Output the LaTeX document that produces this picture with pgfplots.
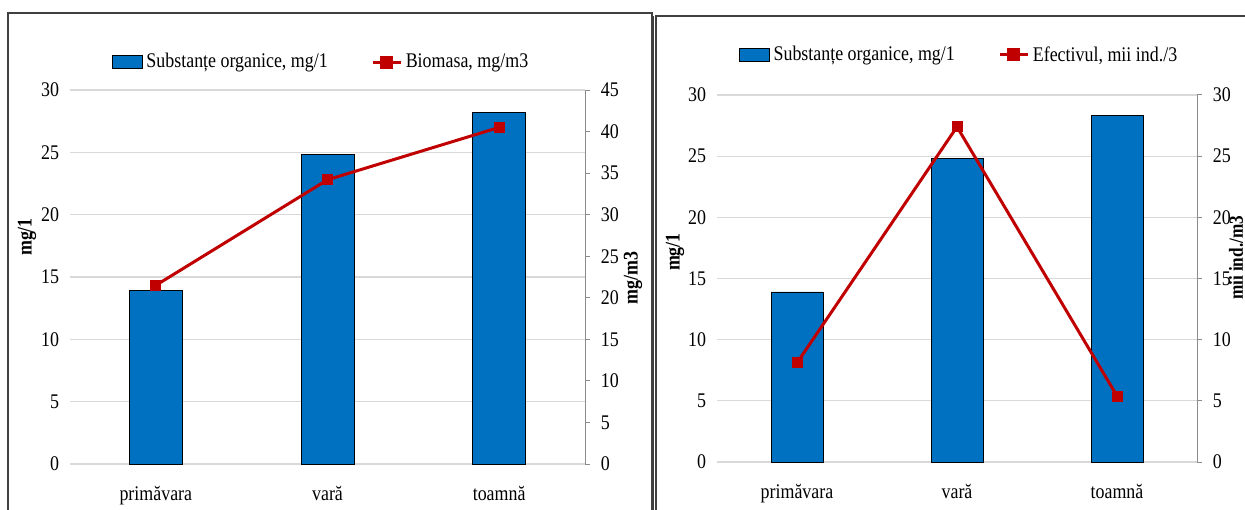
\documentclass[border=0pt]{standalone}
\usepackage{fontspec}
\setmainfont{Liberation Serif}[FakeStretch=0.86]
\usepackage{pgfplots}
\pgfplotsset{compat=1.18}
\definecolor{barblue}{HTML}{0070C0}
\definecolor{linered}{HTML}{C00000}
\definecolor{gridgray}{HTML}{D9D9D9}
\definecolor{axgray}{HTML}{8C8C8C}
\definecolor{framegray}{HTML}{404040}

\pgfplotsset{
  common/.style={
    scale only axis, anchor=south west,
    xmin=-0.5, xmax=2.5,
    /pgf/number format/assume math mode=true,
    tick label style={font=\fontsize{12.5}{14}\selectfont},
    label style={font=\bfseries\fontsize{12.5}{14}\selectfont},
  },
  primary/.style={
    common,
    ymin=0, ymax=30, ytick={0,5,...,30},
    xtick={0,1,2}, xticklabels={primăvara, vară, toamnă},
    axis line style={draw=none},
    major tick length=0pt,
    ymajorgrids, grid style={gridgray, line width=0.7pt},
    xticklabel style={yshift=-10pt},
    yticklabel style={xshift=-3pt},
    ylabel={mg/1},
  },
  secondary/.style={
    common,
    axis x line=none,
    axis y line*=right,
    y axis line style={axgray, line width=0.6pt},
    ytick pos=right,
    tick align=outside,
    major tick length=3pt,
    ytick style={axgray, line width=0.6pt},
    yticklabel style={xshift=3pt},
    legend columns=2,
    legend style={draw=none, fill=none, font=\fontsize{12.5}{14}\selectfont,
      /tikz/every even column/.append style={column sep=24pt},
      inner sep=0pt},
  },
  barleg/.style={legend image code/.code={\draw[fill=barblue, draw=black, line width=0.6pt] (0pt,-3.8pt) rectangle (18pt,3.8pt);}},
  lineleg/.style={legend image code/.code={\draw[linered, line width=1.8pt] (0pt,0pt) -- (17pt,0pt);
      \fill[linered] (5.5pt,-3pt) rectangle (11.5pt,3pt);}},
}

\begin{document}
\begin{tikzpicture}
\useasboundingbox (0pt,0pt) rectangle (747pt,305.4pt);
\begin{scope}
\clip (0pt,0pt) rectangle (747pt,305.4pt);
% frames
\draw[framegray, line width=0.8pt] (4.8pt,-5pt) rectangle (391.2pt,297.6pt);
\draw[framegray, line width=0.8pt] (393.6pt,-5pt) rectangle (760pt,295.8pt);
\draw[framegray, line width=0.6pt] (392pt,-5pt) -- (392pt,296pt);

% ---------- left panel ----------
\begin{axis}[primary, at={(42pt,27pt)}, width=309pt, height=224.4pt,
  ylabel style={at={(axis description cs:-0.0835,0.607)}, anchor=center}]
\addplot[ybar, bar width=31.8pt, fill=barblue, draw=black, line width=0.5pt]
  coordinates {(0,13.9) (1,24.8) (2,28.2)};
\end{axis}
\begin{axis}[secondary, at={(42pt,27pt)}, width=309pt, height=224.4pt,
  ymin=0, ymax=45, ytick={0,5,...,45},
  ylabel={mg/m3},
  ylabel style={at={(axis description cs:1.093,0.497)}, anchor=center, rotate=0},
  legend style={at={(axis description cs:0.489,1)}, anchor=center, yshift=16.8pt}]
\addlegendimage{barleg}
\addlegendentry{Substanțe organice, mg/1}
\addplot[linered, line width=1.8pt, mark=square*, mark size=3pt,
  mark options={fill=linered, draw=linered, line width=0.5pt}, lineleg]
  coordinates {(0,21.5) (1,34.2) (2,40.5)};
\addlegendentry{Biomasa, mg/m3}
\end{axis}

% ---------- right panel ----------
\begin{axis}[primary, at={(430.2pt,28.2pt)}, width=288pt, height=220.2pt,
  ylabel style={at={(axis description cs:-0.0875,0.572)}, anchor=center}]
\addplot[ybar, bar width=31.2pt, fill=barblue, draw=black, line width=0.5pt]
  coordinates {(0,13.9) (1,24.8) (2,28.3)};
\end{axis}
\begin{axis}[secondary, at={(430.2pt,28.2pt)}, width=288pt, height=220.2pt,
  ymin=0, ymax=30, ytick={0,5,...,30},
  ylabel={mii ind./m3},
  ylabel style={at={(axis description cs:1.0955,0.556)}, anchor=base, rotate=0,
    inner sep=0pt, font=\bfseries\fontsize{12}{14}\selectfont},
  legend style={at={(axis description cs:0.506,1)}, anchor=center, yshift=24pt}]
\addlegendimage{barleg}
\addlegendentry{Substanțe organice, mg/1}
\addplot[linered, line width=1.8pt, mark=square*, mark size=3pt,
  mark options={fill=linered, draw=linered, line width=0.5pt}, lineleg]
  coordinates {(0,8.1) (1,27.4) (2,5.4)};
\addlegendentry{Efectivul, mii ind./3}
\end{axis}
\end{scope}
\end{tikzpicture}
\end{document}
